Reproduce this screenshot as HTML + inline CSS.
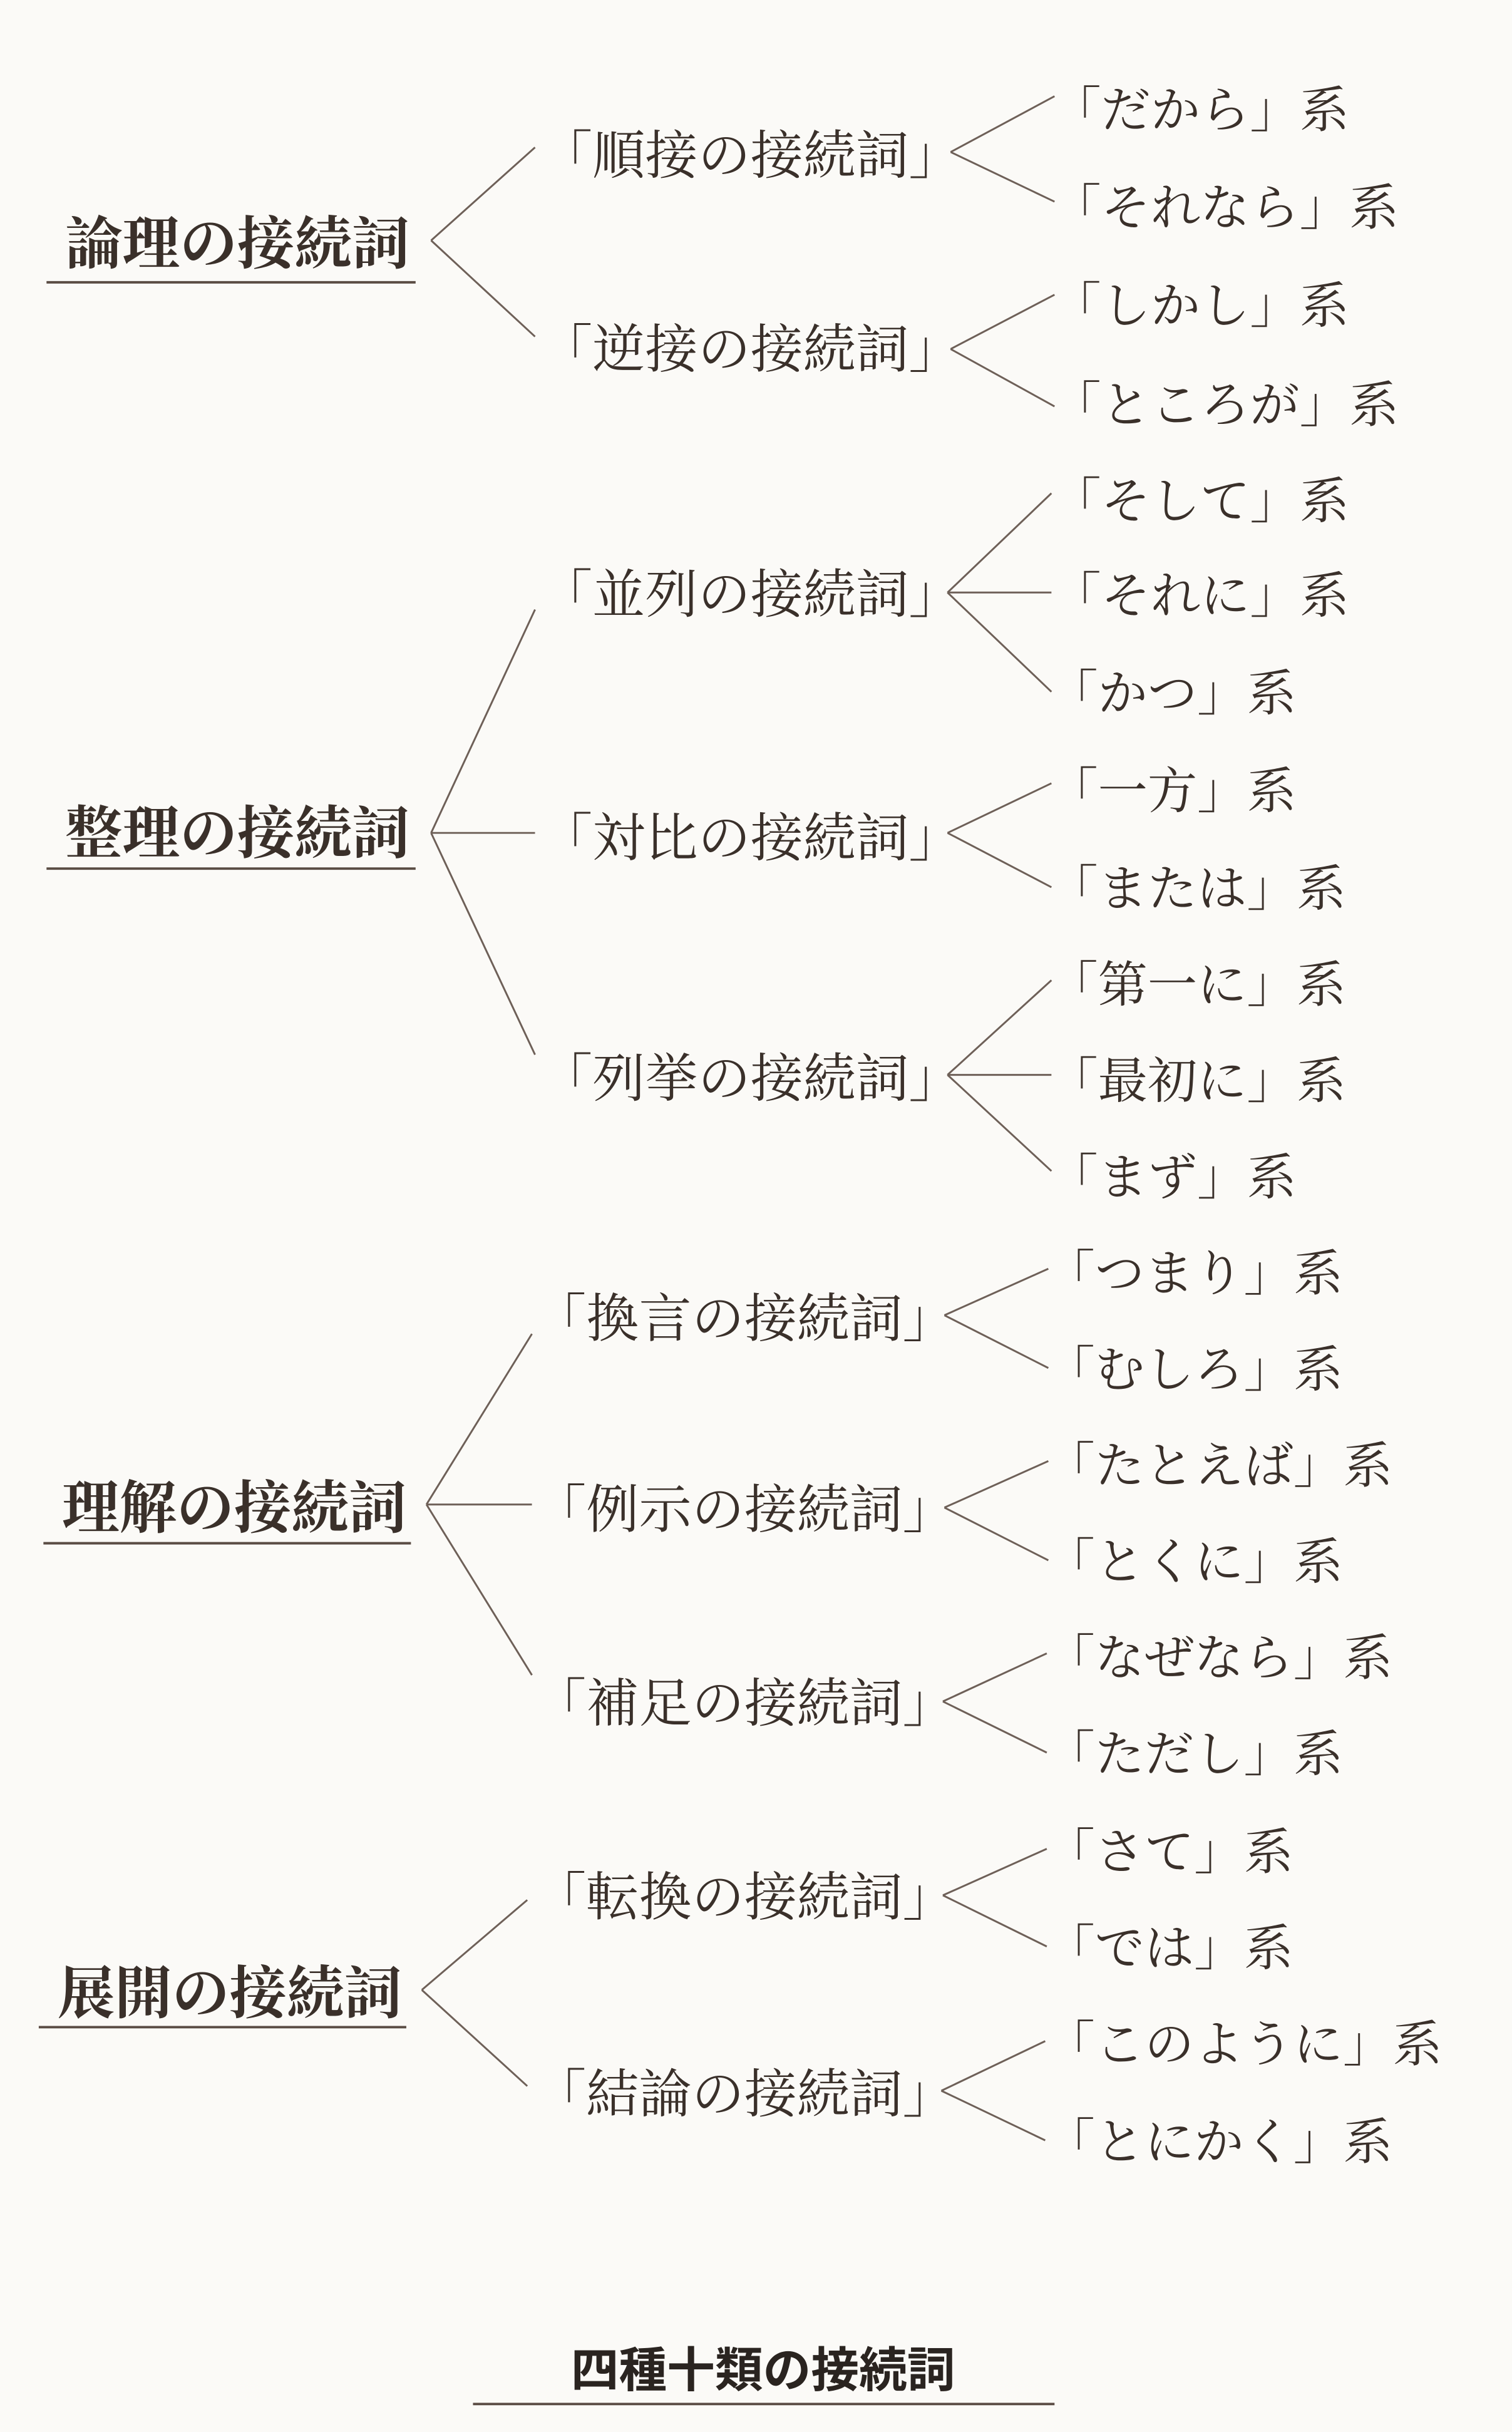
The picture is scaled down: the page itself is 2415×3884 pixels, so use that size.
<!DOCTYPE html>
<html><head><meta charset="utf-8"><style>
html,body{margin:0;padding:0;background:#fbfaf7;}
svg{display:block;}
text{font-family:"Liberation Serif","Noto Serif CJK SC","Noto Serif CJK JP",serif;fill:#3a302a;}
.l1{font-size:37px;font-weight:700;}
.l2{font-size:34px;}
.lf{font-size:32px;}
.t{font-family:"Liberation Sans","Noto Sans CJK JP",sans-serif;font-size:31px;font-weight:700;fill:#2a2420;}
line{stroke:#6e6058;stroke-width:1.2;}
.u{stroke:#5a4c44;stroke-width:1.6;}
</style></head><body>
<svg width="2415" height="3884" viewBox="0 0 975 1568" xmlns="http://www.w3.org/2000/svg">
<text class="l1" x="42" y="170">論理の接続詞</text>
<line class="u" x1="30" y1="182" x2="268" y2="182"/>
<text class="l1" x="42" y="550">整理の接続詞</text>
<line class="u" x1="30" y1="560" x2="268" y2="560"/>
<text class="l1" x="40" y="985">理解の接続詞</text>
<line class="u" x1="28" y1="995" x2="265" y2="995"/>
<text class="l1" x="37" y="1298">展開の接続詞</text>
<line class="u" x1="25" y1="1307" x2="262" y2="1307"/>

<line x1="278" y1="155" x2="345" y2="95"/>
<line x1="278" y1="155" x2="345" y2="217"/>
<line x1="278" y1="537" x2="345" y2="393"/>
<line x1="278" y1="537" x2="345" y2="537"/>
<line x1="278" y1="537" x2="345" y2="680"/>
<line x1="275" y1="970" x2="343" y2="860"/>
<line x1="275" y1="970" x2="343" y2="970"/>
<line x1="275" y1="970" x2="343" y2="1080"/>
<line x1="272" y1="1283" x2="340" y2="1225"/>
<line x1="272" y1="1283" x2="340" y2="1345"/>

<text class="l2" x="348" y="112">「順接の接続詞」</text>
<text class="l2" x="348" y="237">「逆接の接続詞」</text>
<text class="l2" x="348" y="395">「並列の接続詞」</text>
<text class="l2" x="348" y="552">「対比の接続詞」</text>
<text class="l2" x="348" y="707">「列挙の接続詞」</text>
<text class="l2" x="344" y="862">「換言の接続詞」</text>
<text class="l2" x="344" y="985">「例示の接続詞」</text>
<text class="l2" x="344" y="1110">「補足の接続詞」</text>
<text class="l2" x="344" y="1235">「転換の接続詞」</text>
<text class="l2" x="344" y="1362">「結論の接続詞」</text>

<line x1="613" y1="98" x2="680" y2="62"/><line x1="613" y1="98" x2="680" y2="130"/>
<line x1="613" y1="225" x2="680" y2="190"/><line x1="613" y1="225" x2="680" y2="262"/>
<line x1="611" y1="382" x2="678" y2="318"/><line x1="611" y1="382" x2="678" y2="382"/><line x1="611" y1="382" x2="678" y2="446"/>
<line x1="611" y1="537" x2="678" y2="505"/><line x1="611" y1="537" x2="678" y2="572"/>
<line x1="611" y1="693" x2="678" y2="632"/><line x1="611" y1="693" x2="678" y2="693"/><line x1="611" y1="693" x2="678" y2="755"/>
<line x1="609" y1="848" x2="676" y2="818"/><line x1="609" y1="848" x2="676" y2="882"/>
<line x1="609" y1="972" x2="676" y2="942"/><line x1="609" y1="972" x2="676" y2="1006"/>
<line x1="608" y1="1097" x2="675" y2="1066"/><line x1="608" y1="1097" x2="675" y2="1130"/>
<line x1="608" y1="1222" x2="675" y2="1192"/><line x1="608" y1="1222" x2="675" y2="1255"/>
<line x1="607" y1="1348" x2="674" y2="1316"/><line x1="607" y1="1348" x2="674" y2="1380"/>

<text class="lf" x="678" y="82">「だから」系</text>
<text class="lf" x="678" y="145">「それなら」系</text>
<text class="lf" x="678" y="208">「しかし」系</text>
<text class="lf" x="678" y="272">「ところが」系</text>
<text class="lf" x="678" y="334">「そして」系</text>
<text class="lf" x="678" y="395">「それに」系</text>
<text class="lf" x="676" y="458">「かつ」系</text>
<text class="lf" x="676" y="521">「一方」系</text>
<text class="lf" x="676" y="584">「または」系</text>
<text class="lf" x="676" y="646">「第一に」系</text>
<text class="lf" x="676" y="708">「最初に」系</text>
<text class="lf" x="676" y="770">「まず」系</text>
<text class="lf" x="674" y="832">「つまり」系</text>
<text class="lf" x="674" y="894">「むしろ」系</text>
<text class="lf" x="674" y="956">「たとえば」系</text>
<text class="lf" x="674" y="1018">「とくに」系</text>
<text class="lf" x="674" y="1080">「なぜなら」系</text>
<text class="lf" x="674" y="1142">「ただし」系</text>
<text class="lf" x="674" y="1205">「さて」系</text>
<text class="lf" x="674" y="1267">「では」系</text>
<text class="lf" x="674" y="1329">「このように」系</text>
<text class="lf" x="674" y="1392">「とにかく」系</text>

<text class="t" x="492" y="1539" text-anchor="middle">四種十類の接続詞</text>
<line class="u" x1="305" y1="1550" x2="680" y2="1550"/>
</svg>
</body></html>
